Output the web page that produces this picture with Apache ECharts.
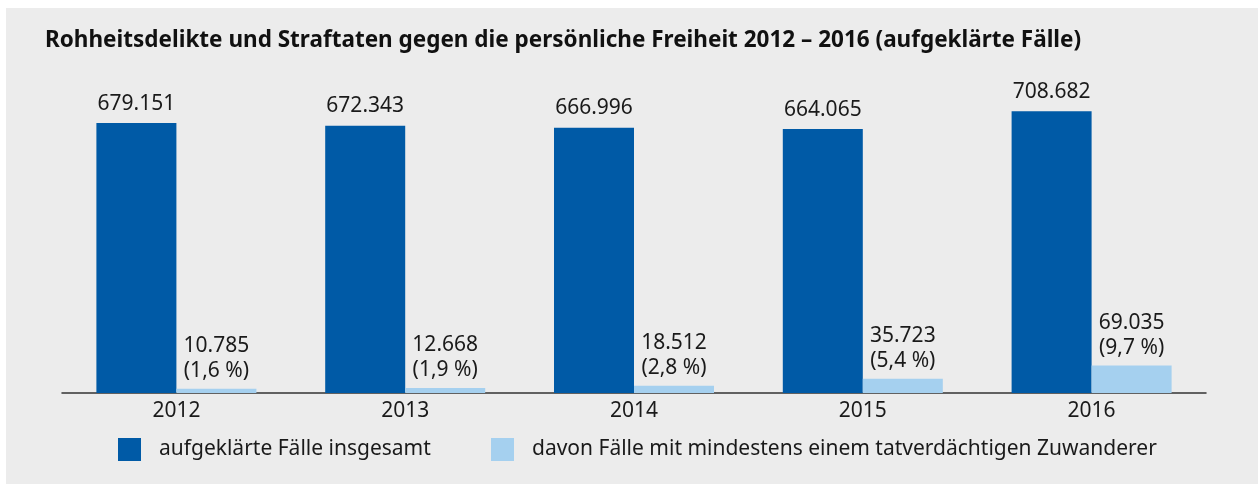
<!DOCTYPE html>
<html>
<head>
<meta charset="utf-8">
<script src="https://cdn.jsdelivr.net/npm/echarts@6/dist/echarts.min.js"></script>
<style>
html,body{margin:0;padding:0;background:#ffffff;}
#chart{width:1258px;height:484px;}
</style>
</head>
<body>
<div id="chart"></div>
<script>
var categories = ['2012', '2013', '2014', '2015', '2016'];
var totalCases = [679151, 672343, 666996, 664065, 708682];
var migrantCases = [10785, 12668, 18512, 35723, 69035];
var migrantShare = ['1,6', '1,9', '2,8', '5,4', '9,7'];
var seriesNames = ['aufgeklärte Fälle insgesamt', 'davon Fälle mit mindestens einem tatverdächtigen Zuwanderer'];
var titleText = 'Rohheitsdelikte und Straftaten gegen die persönliche Freiheit 2012 – 2016 (aufgeklärte Fälle)';

function fmt(n) {
  return String(n).replace(/\B(?=(\d{3})+(?!\d))/g, '.');
}

var FONT = '"Noto Sans", sans-serif';
var DARK = '#005AA6';
var LIGHT = '#A5D0EF';
var TXT = '#1a1a1a';
var FS = 21;

var chart = echarts.init(document.getElementById('chart'), null, {renderer: 'canvas'});
chart.setOption({
  backgroundColor: '#ffffff',
  animation: false,
  textStyle: {fontFamily: FONT},
  graphic: [{
    type: 'rect', z: -100, silent: true,
    shape: {x: 6, y: 8, width: 1252, height: 476},
    style: {fill: '#ECECEC'}
  }],
  title: {
    text: titleText,
    left: 40, top: 24,
    textStyle: {fontFamily: FONT, fontSize: 22.5, fontWeight: 'bold', color: '#111'}
  },
  legend: [{
    data: [seriesNames[0]],
    left: 118, top: 438, padding: 0,
    itemWidth: 23, itemHeight: 23,
    icon: 'rect',
    textStyle: {fontFamily: FONT, fontSize: FS, color: TXT, padding: [3, 0, 0, 13]}
  }, {
    data: [seriesNames[1]],
    left: 491, top: 438, padding: 0,
    itemWidth: 23, itemHeight: 23,
    icon: 'rect',
    textStyle: {fontFamily: FONT, fontSize: FS, color: TXT, padding: [3, 0, 0, 13]}
  }],
  grid: {left: 62, right: 52, top: 75, bottom: 91, containLabel: false},
  xAxis: {
    type: 'category',
    data: categories,
    axisLine: {show: true, lineStyle: {color: '#333', width: 1.5}},
    axisTick: {show: false},
    axisLabel: {fontFamily: FONT, fontSize: FS, color: TXT, margin: 8}
  },
  yAxis: {
    type: 'value', min: 0, max: 800000,
    show: false, splitLine: {show: false}
  },
  series: [{
    name: seriesNames[0],
    type: 'bar',
    data: totalCases,
    barWidth: 80,
    barGap: '0%',
    itemStyle: {color: DARK},
    label: {
      show: true, position: 'top', distance: 9,
      fontFamily: FONT, fontSize: FS, color: TXT,
      formatter: function (p) { return fmt(p.value); }
    }
  }, {
    name: seriesNames[1],
    type: 'bar',
    data: migrantCases,
    barWidth: 80,
    barGap: '0%',
    itemStyle: {color: LIGHT},
    label: {
      show: true, position: 'top', distance: 5,
      fontFamily: FONT, fontSize: FS, color: TXT, lineHeight: 25, align: 'center',
      formatter: function (p) { return fmt(p.value) + '\n(' + migrantShare[p.dataIndex] + ' %)'; }
    }
  }]
});
</script>
</body>
</html>
